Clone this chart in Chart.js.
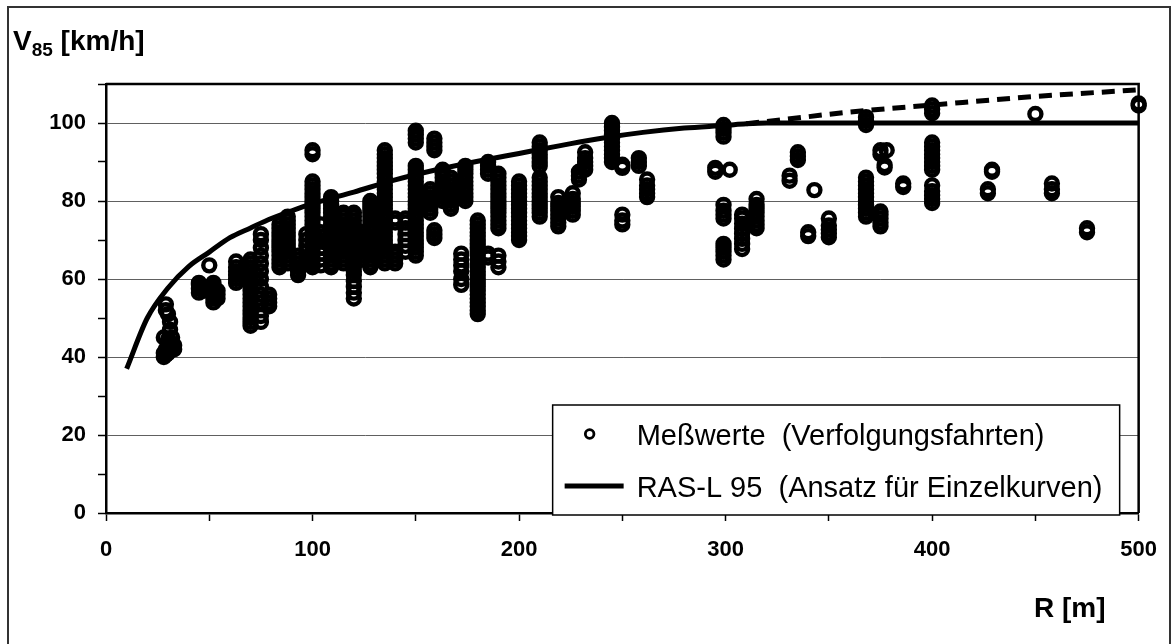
<!DOCTYPE html>
<html>
<head>
<meta charset="utf-8">
<script src="https://cdn.jsdelivr.net/npm/chart.js@4.4.0/dist/chart.umd.min.js"></script>
<style>
  html, body { margin: 0; padding: 0; background: #fff; }
  #wrap { position: relative; width: 1173px; height: 644px; overflow: hidden; }
  #frame { position: absolute; left: 7px; top: 6px; width: 1160px; height: 700px; border: 2px solid #333; pointer-events: none; }
  canvas { position: absolute; left: 0; top: 0; }
</style>
</head>
<body>
<div id="wrap">
  <canvas id="myChart" width="1173" height="644"></canvas>
  <div id="frame"></div>
</div>
<script>
// measured V85 values, one row per curve radius: [R, v1, v2, ...]
const messA = [
  [28, 40, 41, 45],
  [29, 40.5, 42, 52, 53.5],
  [30, 41, 43, 44.5, 51],
  [31, 42, 47, 49],
  [32, 42.5, 43.5, 45],
  [33, 42, 43],
  [45, 56.5, 57.5, 58.5, 59],
  [47, 57, 58],
  [50, 63.5],
  [52, 54, 55, 56, 57, 58, 59],
  [54, 55, 56, 57],
  [63, 59, 60, 61, 62, 63, 64.5],
  [70, 48, 49, 50, 51, 52, 53, 54, 55, 56, 57, 58, 59, 60, 61, 62, 63, 64, 65],
  [75, 49, 50.5, 52, 54, 56, 58, 60, 62, 64, 66, 68, 70, 71.5],
  [79, 53, 54, 55, 56],
  [84, 63, 64, 65, 66, 67, 68, 69, 70, 71, 72, 73, 74],
  [88, 64, 65, 66, 67, 68, 69, 70, 71, 72, 73, 74, 75, 76],
  [93, 61, 62, 63, 64, 65, 66],
  [97, 64, 65.5, 67, 68.5, 70, 71.5],
];

const messB = [
  [100, 63, 64, 65, 66, 67, 68, 69, 70, 71, 72, 73, 74, 75, 76, 77, 78, 79, 80, 81, 82, 83, 84, 85, 92, 93],
  [104, 63.5, 65, 66.5, 68, 70, 72, 74],
  [109, 63, 64, 65, 66, 67, 68, 69, 70, 71, 72, 73, 74, 75, 76, 77, 78, 79, 80, 81],
  [115, 64, 65, 66, 67, 68, 69, 70, 71, 72, 73, 74, 75, 76, 77],
  [120, 55, 56.5, 58, 59.5, 61, 62, 63, 64, 65, 66, 67, 68, 69, 70, 71, 72, 73, 74, 75, 76, 77],
  [124, 65, 66, 67, 68, 69, 70, 71, 72],
  [128, 63, 64, 65, 66, 67, 68, 69, 70, 71, 72, 73, 74, 75, 76, 77, 78, 79, 80],
  [135, 64, 65, 66, 67, 68, 69, 70, 71, 72, 73, 74, 75, 76, 77, 78, 79, 80, 81, 82, 83, 84, 85, 86, 87, 88, 89, 90, 91, 92, 93],
  [140, 64, 65, 66, 67, 74.5, 75.5],
  [145, 67, 68.5, 70, 71.5, 73, 74.5, 75.5],
  [150, 66, 67, 68, 69, 70, 71, 72, 73, 74, 75, 76, 77, 78, 79, 80, 81, 82, 83, 84, 85, 86, 87, 88, 89, 95, 96, 97, 98],
  [157, 77, 78, 79, 80, 81, 82, 83],
  [159, 70.5, 71.5, 72.5, 93, 94, 95, 96],
  [163, 80, 81, 82, 83, 84, 85, 86, 87, 88],
  [167, 78, 79, 80, 81, 82, 83, 84, 85, 86],
  [172, 58.5, 60, 62, 63.5, 65, 66.5],
  [174, 80, 81, 82, 83, 84, 85, 86, 87, 88, 89],
  [180, 51, 52, 53, 54, 55, 56, 57, 58, 59, 60, 61, 62, 63, 64, 65, 66, 67, 68, 69, 70, 71, 72, 73, 74, 75],
  [185, 65.5, 66.5, 87, 88, 89, 90],
  [190, 63, 64.5, 66, 73, 74, 75, 76, 77, 78, 79, 80, 81, 82, 83, 84, 85, 86, 87],
  [200, 70, 71, 72, 73, 74, 75, 76, 77, 78, 79, 80, 81, 82, 83, 84, 85],
];

const messC = [
  [210, 76, 77, 78, 79, 80, 81, 82, 83, 84, 85, 86, 89, 90, 91, 92, 93, 94, 95],
  [219, 73.5, 74.5, 75.5, 76.5, 77.5, 78.5, 79.5, 81],
  [226, 76.5, 77.5, 78.5, 79.5, 80.5, 82],
  [229, 85.5, 86.5, 87.5],
  [232, 88, 89, 90, 91, 92.5],
  [245, 90, 91, 92, 93, 94, 95, 96, 97, 98, 99, 100],
  [250, 74, 75, 76.5, 88.5, 89.3],
  [258, 89, 90, 91],
  [262, 81, 82, 83, 84, 85.5],
  [295, 87.5, 88.5],
  [299, 65, 66, 67, 68, 69, 75.5, 76.5, 77.5, 79, 96.5, 97.5, 98.5, 99.5],
  [302, 88],
  [308, 67.7, 69, 70.3, 71.6, 72.9, 74.2, 75.5, 76.5],
];

const messD = [
  [315, 73, 74, 75, 76, 77, 78, 79, 80.5],
  [331, 85.2, 86.5],
  [335, 90.5, 91.5, 92.5],
  [340, 71, 72],
  [343, 82.8],
  [350, 70.7, 71.7, 72.7, 73.7, 75.5],
  [368, 76, 77, 78, 79, 80, 81, 82, 83, 84, 85, 86, 99.5, 100.5, 101.5],
  [375, 73.5, 74.5, 75.5, 76.5, 77.3, 92, 93],
  [377, 88.6, 89.2],
  [378, 93],
  [386, 83.6, 84.5],
  [400, 79.5, 80.5, 81.5, 82.5, 84, 88, 89, 90, 91, 92, 93, 94, 95, 102.5, 103.5, 104.5],
  [427, 82, 83],
  [429, 87.5, 88],
  [450, 102.3],
  [458, 82, 83, 84.5],
  [475, 72, 73],
  [500, 104.5, 105],
];

// RAS-L 95 curve
const rasR = [10, 20, 30, 40, 50, 60, 70, 80, 90, 100, 120, 140, 160, 180, 200, 220, 240, 260, 280, 300, 310, 320, 500];
const rasV = [37, 50, 57.7, 63.2, 66.9, 70.6, 73.1, 75.5, 77.5, 79.3, 82.3, 85.4, 88, 90.2, 92.2, 94.2, 96.1, 97.6, 98.7, 99.4, 99.8, 100, 100];
// dashed continuation above 100 km/h
const dashR = [310, 330, 360, 400, 450, 500];
const dashV = [99.8, 101, 102.8, 104.6, 106.8, 108.5];

const xTickLabels = [0, 100, 200, 300, 400, 500];
const yTickLabels = [0, 20, 40, 60, 80, 100];

const FONT = '"Liberation Sans", Arial, sans-serif';

const messPoints = [];
[...messA, ...messB, ...messC, ...messD].forEach((col) => {
  col.slice(1).forEach((v) => messPoints.push({ x: col[0], y: v }));
});
const rasPoints = rasR.map((r, i) => ({ x: r, y: rasV[i] }));
const dashPoints = dashR.map((r, i) => ({ x: r, y: dashV[i] }));

const framePlugin = {
  id: "frame",
  beforeDatasetsDraw(chart) {
    const { ctx, chartArea } = chart;
    ctx.save();
    ctx.strokeStyle = "#000";
    ctx.lineWidth = 2.5;
    ctx.beginPath();
    ctx.moveTo(chartArea.left, chartArea.top);
    ctx.lineTo(chartArea.right, chartArea.top);
    ctx.lineTo(chartArea.right, chartArea.bottom);
    ctx.stroke();
    ctx.restore();
  },
};

const legendPlugin = {
  id: "boxLegend",
  afterDatasetsDraw(chart) {
    const { ctx, chartArea } = chart;
    const right = chartArea.right - 19;
    const bottom = chartArea.bottom + 2;
    const left = right - 567;
    const top = bottom - 110;
    ctx.save();
    ctx.fillStyle = "#fff";
    ctx.fillRect(left, top, right - left, bottom - top);
    ctx.strokeStyle = "#000";
    ctx.lineWidth = 1.5;
    ctx.strokeRect(left, top, right - left, bottom - top);

    // circle marker
    ctx.lineWidth = 2.8;
    ctx.beginPath();
    ctx.arc(left + 37, top + 29, 4.3, 0, Math.PI * 2);
    ctx.stroke();
    // line marker
    ctx.lineWidth = 5;
    ctx.beginPath();
    ctx.moveTo(left + 12, top + 81);
    ctx.lineTo(left + 71, top + 81);
    ctx.stroke();

    ctx.fillStyle = "#000";
    ctx.font = "29px " + FONT;
    ctx.textAlign = "left";
    ctx.textBaseline = "alphabetic";
    ctx.fillText(chart.data.datasets[0].label, left + 84, top + 40);
    ctx.fillText(chart.data.datasets[1].label, left + 84, top + 92);
    ctx.restore();
  },
};

const titlePlugin = {
  id: "axisTitles",
  afterDraw(chart) {
    const { ctx } = chart;
    ctx.save();
    ctx.fillStyle = "#000";
    ctx.textBaseline = "alphabetic";
    ctx.textAlign = "left";
    ctx.font = "bold 28px " + FONT;
    let x = 13;
    ctx.fillText("V", x, 50);
    x += ctx.measureText("V").width;
    ctx.font = "bold 19px " + FONT;
    ctx.fillText("85", x, 56);
    x += ctx.measureText("85").width;
    ctx.font = "bold 28px " + FONT;
    ctx.fillText(" [km/h]", x, 50);
    ctx.fillText("R [m]", 1034, 617);
    ctx.restore();
  },
};

// eslint-disable-next-line
const myChart = new Chart("myChart", {
  type: "scatter",
  data: {
    datasets: [
      {
        label: "Meßwerte  (Verfolgungsfahrten)",
        data: messPoints,
        pointStyle: "circle",
        pointRadius: 6,
        pointBorderWidth: 4.4,
        pointBorderColor: "#000",
        pointBackgroundColor: "rgba(0,0,0,0)",
        pointHoverRadius: 6,
        clip: false,
        order: 2,
      },
      {
        label: "RAS-L 95  (Ansatz für Einzelkurven)",
        data: rasPoints,
        showLine: true,
        pointRadius: 0,
        borderColor: "#000",
        borderWidth: 5,
        cubicInterpolationMode: "monotone",
        order: 1,
      },
      {
        label: "RAS-L 95 (Fortsetzung)",
        data: dashPoints,
        showLine: true,
        pointRadius: 0,
        borderColor: "#000",
        borderWidth: 5,
        borderDash: [13, 8],
        cubicInterpolationMode: "monotone",
        order: 1,
      },
    ],
  },
  options: {
    responsive: false,
    animation: false,
    events: [],
    layout: { padding: { left: 0, top: 84, right: 25, bottom: 0 } },
    plugins: {
      legend: { display: false },
      tooltip: { enabled: false },
    },
    scales: {
      x: {
        type: "linear",
        min: 0,
        max: 500,
        afterFit: (scale) => {
          scale.height = 131;
        },
        border: { color: "#000", width: 2.5 },
        grid: {
          drawOnChartArea: false,
          tickColor: "#000",
          tickLength: 8,
          tickWidth: 1.5,
        },
        ticks: {
          stepSize: 50,
          autoSkip: false,
          maxRotation: 0,
          padding: 16,
          color: "#000",
          font: { family: FONT, size: 22, weight: "bold" },
          callback: (v) => (xTickLabels.includes(v) ? String(v) : ""),
        },
      },
      y: {
        type: "linear",
        min: 0,
        max: 110,
        afterFit: (scale) => {
          scale.width = 106;
        },
        border: { color: "#000", width: 2.5 },
        grid: {
          color: (c) =>
            c.tick && yTickLabels.includes(c.tick.value) && c.tick.value > 0 ? "#606060" : "rgba(0,0,0,0)",
          lineWidth: 1,
          tickColor: "#000",
          tickLength: 8,
          tickWidth: 1.5,
        },
        ticks: {
          stepSize: 10,
          autoSkip: false,
          padding: 12,
          color: "#000",
          font: { family: FONT, size: 22, weight: "bold" },
          callback: (v) => (yTickLabels.includes(v) ? String(v) : ""),
        },
      },
    },
  },
  plugins: [framePlugin, legendPlugin, titlePlugin],
});
</script>
</body>
</html>
